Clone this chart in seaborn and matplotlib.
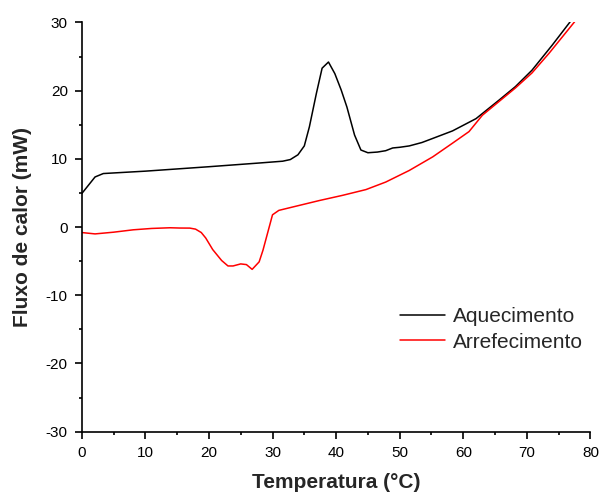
import matplotlib
matplotlib.use("Agg")
import matplotlib.pyplot as plt
import seaborn as sns
import pandas as pd
from matplotlib.ticker import MultipleLocator

# Heating curve (temperature in °C, heat flow in mW)
temp_heat = [0, 2.1, 3.4, 10, 20, 28, 31.6, 32.8, 34.0, 35.0, 35.8, 36.9, 37.8,
             38.8, 39.8, 40.8, 41.7, 42.9, 43.9, 45.0, 46.5, 47.8, 48.9, 50.0,
             51.5, 53.5, 55.2, 58.3, 62.0, 65.6, 68.2, 70.8, 74.0, 76.8]
flow_heat = [4.9, 7.35, 7.85, 8.2, 8.85, 9.4, 9.66, 9.9, 10.6, 11.9, 14.7, 19.6, 23.3,
             24.2, 22.5, 20.1, 17.6, 13.5, 11.3, 10.9, 11.0, 11.2, 11.6, 11.7,
             11.9, 12.4, 13.0, 14.1, 15.9, 18.6, 20.6, 23.0, 26.7, 30.1]

# Cooling curve
temp_cool = [0, 2.1, 5, 8.1, 11, 13.9, 15.4, 17.0, 17.9, 18.8, 19.5, 20.6, 22.0,
             23.0, 23.8, 25.0, 25.9, 26.8, 27.9, 28.5, 30.0, 31.0, 33.2, 37.4,
             41.0, 44.7, 47.8, 51.5, 55.2, 58.3, 60.9, 63.0, 65.6, 68.2, 70.8,
             73.5, 75.5, 77.5]
flow_cool = [-0.8, -1.0, -0.75, -0.4, -0.2, -0.1, -0.14, -0.15, -0.3, -0.8, -1.6, -3.3, -4.9,
             -5.7, -5.7, -5.4, -5.5, -6.2, -5.1, -3.4, 1.8, 2.45, 2.95, 3.9,
             4.65, 5.5, 6.6, 8.3, 10.3, 12.3, 14.0, 16.4, 18.4, 20.4, 22.6,
             25.5, 27.8, 30.1]

series_names = ["Aquecimento", "Arrefecimento"]
series_colors = ["#000000", "#FF0000"]

x_ticks = list(range(0, 81, 10))
y_ticks = list(range(-30, 31, 10))

df = pd.concat([
    pd.DataFrame({"T": temp_heat, "Q": flow_heat, "serie": series_names[0]}),
    pd.DataFrame({"T": temp_cool, "Q": flow_cool, "serie": series_names[1]}),
], ignore_index=True)

sns.set_style("ticks")
plt.rcParams["font.family"] = ["Liberation Sans", "DejaVu Sans"]
plt.rcParams["axes.unicode_minus"] = False

fig = plt.figure(figsize=(5.99, 4.95), dpi=100)
ax = fig.add_axes([0.1364, 0.1279, 0.8494, 0.8267])

sns.lineplot(data=df, x="T", y="Q", hue="serie", palette=series_colors,
             estimator=None, sort=False, linewidth=1.1, ax=ax)

ax.set_xlim(0, 80)
ax.set_ylim(-30, 30)
ax.set_xticks(x_ticks)
ax.set_yticks(y_ticks)
ax.xaxis.set_minor_locator(MultipleLocator(5))
ax.yaxis.set_minor_locator(MultipleLocator(5))

for side in ("top", "right"):
    ax.spines[side].set_visible(False)
for side in ("left", "bottom"):
    ax.spines[side].set_linewidth(1.2)
    ax.spines[side].set_color("black")

ax.tick_params(which="major", direction="out", length=5, width=1.2,
               labelsize=11, colors="black", pad=5)
ax.tick_params(which="minor", direction="out", length=2.5, width=1.2, colors="black")

ax.set_xlabel("Temperatura (°C)", fontsize=15, fontweight="bold", labelpad=10)
ax.set_ylabel("Fluxo de calor (mW)", fontsize=15, fontweight="bold", labelpad=10)

leg = ax.legend(loc="upper left", bbox_to_anchor=(399.5 / 599, 1 - 307 / 495),
                bbox_transform=fig.transFigure, frameon=False, fontsize=15,
                handlelength=2.2, handletextpad=0.35, labelspacing=0.32,
                borderpad=0, borderaxespad=0)
for line in leg.get_lines():
    line.set_linewidth(1.1)

fig.savefig("out.png", dpi=100)
